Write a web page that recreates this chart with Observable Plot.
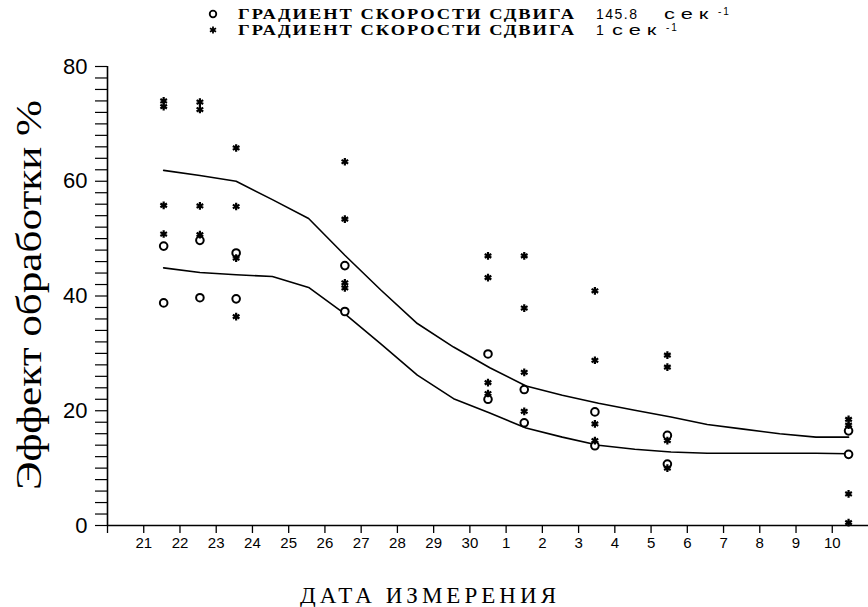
<!DOCTYPE html>
<html>
<head>
<meta charset="utf-8">
<script src="https://cdn.jsdelivr.net/npm/d3@7"></script>
<script src="https://cdn.jsdelivr.net/npm/@observablehq/plot@0.6"></script>
<style>
  html, body { margin: 0; padding: 0; background: #fff; }
  #chart svg { display: block; }
</style>
</head>
<body>
<div id="chart"></div>
<script>
// ---- data ----
// x positions are day indices: 0 = "21", 9 = "30", 10 = "1", 19 = "10"
const dayLabels = ["21","22","23","24","25","26","27","28","29","30","1","2","3","4","5","6","7","8","9","10"];
const yTickLabels = [0, 20, 40, 60, 80];

// measurement days (mid-day positions of the point columns)
const pointDays = [0.55, 1.55, 2.55, 5.55, 9.5, 10.5, 12.45, 14.45, 19.45];

// shear rate 1 s^-1 (asterisks)
const starValues = [
  [74.0, 73.0, 55.8, 50.8],
  [73.8, 72.5, 55.7, 50.7],
  [65.8, 55.6, 46.6, 36.4],
  [63.4, 53.4, 42.3, 41.4],
  [47.0, 43.2, 24.9, 23.0],
  [47.0, 37.9, 26.7, 19.9],
  [40.9, 28.8, 17.7, 14.8],
  [29.7, 27.6, 14.8, 10.0],
  [18.5, 17.5, 5.5, 0.5]
];
// shear rate 145.8 s^-1 (open circles)
const circleValues = [
  [48.7, 38.8],
  [49.7, 39.7],
  [47.5, 39.5],
  [45.3, 37.3],
  [29.9, 22.0],
  [23.7, 17.9],
  [19.8, 13.9],
  [15.7, 10.7],
  [16.5, 12.4]
];

// smoothed curves
const curveDays = [0.55, 1.55, 2.55, 3.55, 4.55, 5.55, 6.55, 7.55, 8.55, 9.55, 10.55, 11.55, 12.55, 13.55, 14.55, 15.55, 16.55, 17.55, 18.55, 19.45];
const upperCurve = [61.9, 61.0, 60.0, 56.8, 53.5, 47.1, 41.0, 35.2, 31.1, 27.5, 24.3, 22.7, 21.3, 20.1, 18.9, 17.6, 16.8, 16.0, 15.4, 15.4];
const lowerCurve = [44.9, 44.1, 43.7, 43.4, 41.5, 36.9, 31.6, 26.2, 22.1, 19.6, 17.0, 15.4, 14.0, 13.3, 12.8, 12.6, 12.6, 12.6, 12.6, 12.5];

// legend texts
const legendTitle = "ГРАДИЕНТ СКОРОСТИ СДВИГА";
const legendRates = ["145.8", "1"];
const legendUnit = "сек";
const legendExp = "-1";

// ---- tables ----
const stars = pointDays.flatMap((d, i) => starValues[i].map(v => ({day: d, value: v})));
const circles = pointDays.flatMap((d, i) => circleValues[i].map(v => ({day: d, value: v})));
const upper = curveDays.map((d, i) => ({day: d, value: upperCurve[i]}));
const lower = curveDays.map((d, i) => ({day: d, value: lowerCurve[i]}));
const dayTicks = dayLabels.map((_, i) => i);
const yMinorTicks = d3.range(0, 81, 2);

const W = 868, H = 607;
const sans = "'Liberation Sans', Arial, sans-serif";
const serif = "'Liberation Serif', 'Times New Roman', serif";

const plot = Plot.plot({
  width: W,
  height: H,
  marginLeft: 107,
  marginRight: 0,
  marginTop: 66,
  marginBottom: 82,
  x: {domain: [-1, 20], axis: null},
  y: {domain: [0, 80], axis: null},
  style: {background: "white", color: "black", fontFamily: sans, overflow: "visible"},
  marks: [
    Plot.axisX({ticks: [-1, ...dayTicks], tickSize: 8, tickPadding: 4, fontSize: 15, label: null,
      tickFormat: i => i < 0 ? "" : dayLabels[i], stroke: "black", strokeWidth: 1.3}),
    Plot.axisY({ticks: yMinorTicks, tickSize: 12, tickPadding: 8, fontSize: 22, label: null,
      tickFormat: d => yTickLabels.includes(d) ? String(d) : "", stroke: "black", strokeWidth: 1.2}),
    Plot.ruleY([0], {stroke: "black", strokeWidth: 1.6}),
    Plot.ruleX([-1], {stroke: "black", strokeWidth: 1.6}),
    Plot.line(upper, {x: "day", y: "value", stroke: "black", strokeWidth: 1.6}),
    Plot.line(lower, {x: "day", y: "value", stroke: "black", strokeWidth: 1.6}),
    Plot.dot(circles, {x: "day", y: "value", symbol: "circle", r: 3.8, stroke: "black", strokeWidth: 2, fill: "white"}),
    Plot.dot(stars, {x: "day", y: "value", symbol: "asterisk", r: 3.6, stroke: "black", strokeWidth: 2.2})
  ]
});

document.getElementById("chart").appendChild(plot);

// ---- titles & legend ----
const svg = d3.select(plot);

// y axis title
svg.append("text")
  .attr("transform", "translate(41,295) rotate(-90)")
  .attr("text-anchor", "middle")
  .attr("font-family", serif)
  .attr("font-size", 36)
  .attr("fill", "black")
  .attr("textLength", 390)
  .attr("lengthAdjust", "spacingAndGlyphs")
  .text("Эффект обработки %");

// x axis title
svg.append("text")
  .attr("x", 300)
  .attr("y", 603)
  .attr("text-anchor", "start")
  .attr("font-family", serif)
  .attr("font-size", 23)
  .attr("fill", "black")
  .attr("textLength", 256)
  .attr("lengthAdjust", "spacing")
  .text("ДАТА ИЗМЕРЕНИЯ");

// legend
const legendRows = [
  {symbol: d3.symbolCircle, y: 19, open: true, unitX: 664},
  {symbol: d3.symbolAsterisk, y: 35, open: false, unitX: 612}
];
legendRows.forEach((row, i) => {
  svg.append("path")
    .attr("transform", `translate(213,${row.y - 5})`)
    .attr("d", d3.symbol(row.symbol, 34)())
    .attr("fill", row.open ? "white" : "none")
    .attr("stroke", "black")
    .attr("stroke-width", 1.8);
  svg.append("text")
    .attr("x", 238).attr("y", row.y)
    .attr("text-anchor", "start")
    .attr("font-family", serif)
    .attr("font-size", 14)
    .attr("font-weight", "bold")
    .attr("letter-spacing", 1.5)
    .attr("fill", "black")
    .attr("textLength", 338)
    .attr("lengthAdjust", "spacingAndGlyphs")
    .text(legendTitle);
  svg.append("text")
    .attr("x", 596).attr("y", row.y)
    .attr("text-anchor", "start")
    .attr("font-family", sans)
    .attr("font-size", 14)
    .attr("letter-spacing", 1.5)
    .attr("fill", "black")
    .text(legendRates[i]);
  svg.append("text")
    .attr("x", row.unitX).attr("y", row.y)
    .attr("text-anchor", "start")
    .attr("font-family", sans)
    .attr("font-size", 15)
    .attr("letter-spacing", 4)
    .attr("fill", "black")
    .attr("textLength", 50)
    .attr("lengthAdjust", "spacingAndGlyphs")
    .text(legendUnit);
  svg.append("text")
    .attr("x", row.unitX + 54).attr("y", row.y - 4)
    .attr("text-anchor", "start")
    .attr("font-family", sans)
    .attr("font-size", 10)
    .attr("letter-spacing", 2)
    .attr("fill", "black")
    .text(legendExp);
});
</script>
</body>
</html>
